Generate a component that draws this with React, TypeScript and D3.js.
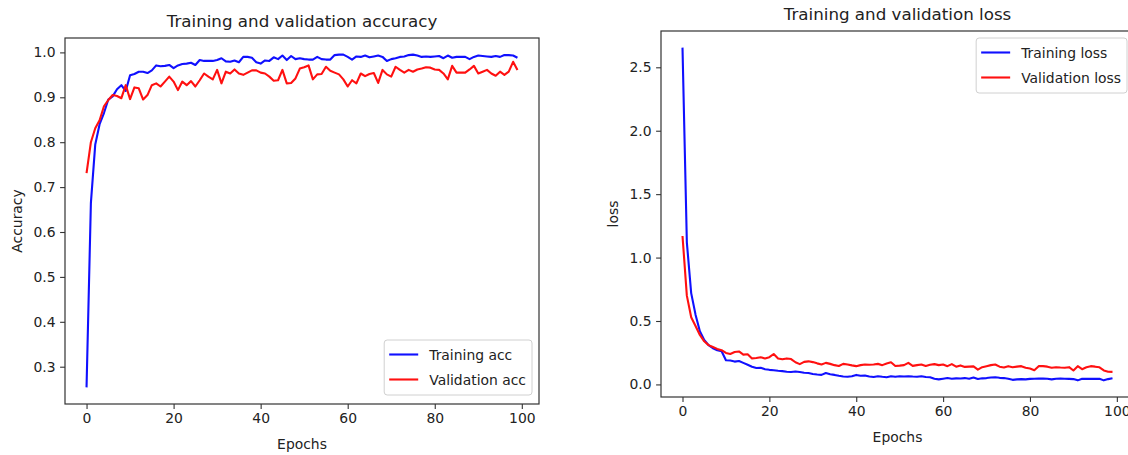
import React, { useEffect, useRef } from "react";
import * as d3 from "d3";

// values (epochs 0..99)
const trainAcc = [
  0.254, 0.665, 0.795, 0.84, 0.865, 0.895, 0.902, 0.918, 0.927, 0.914,
  0.949, 0.952, 0.957, 0.957, 0.954, 0.96, 0.971, 0.969, 0.97, 0.972,
  0.965, 0.971, 0.974, 0.975, 0.977, 0.972, 0.983, 0.981, 0.981, 0.981,
  0.983, 0.987, 0.98, 0.979, 0.982, 0.978, 0.99, 0.99, 0.988, 0.978,
  0.975, 0.982, 0.981, 0.989, 0.985, 0.993, 0.983, 0.992, 0.985, 0.987,
  0.985, 0.984, 0.984, 0.99, 0.985, 0.984, 0.984, 0.994, 0.995, 0.995,
  0.99, 0.984, 0.991, 0.99, 0.993, 0.989, 0.991, 0.993, 0.99, 0.981,
  0.985, 0.987, 0.99, 0.991, 0.994, 0.995, 0.993, 0.99, 0.991, 0.99,
  0.991, 0.992, 0.987, 0.993, 0.988, 0.99, 0.99, 0.99, 0.985, 0.99,
  0.993, 0.992, 0.991, 0.99, 0.992, 0.99, 0.994, 0.994, 0.993, 0.988,
];
const valAcc = [
  0.731, 0.8, 0.831, 0.849, 0.88, 0.894, 0.905, 0.903, 0.898, 0.927,
  0.896, 0.922, 0.92, 0.895, 0.905, 0.927, 0.931, 0.924, 0.935, 0.946,
  0.935, 0.916, 0.935, 0.927, 0.936, 0.924, 0.938, 0.953, 0.946, 0.94,
  0.961, 0.931, 0.957, 0.953, 0.962, 0.953, 0.95, 0.955, 0.96, 0.96,
  0.955, 0.953, 0.946, 0.937, 0.938, 0.961, 0.931, 0.932, 0.942, 0.964,
  0.967, 0.971, 0.94, 0.951, 0.952, 0.968, 0.959, 0.955, 0.951, 0.94,
  0.924, 0.938, 0.931, 0.953, 0.947, 0.952, 0.954, 0.932, 0.961, 0.951,
  0.946, 0.968, 0.961, 0.955, 0.961, 0.957, 0.962, 0.964, 0.967, 0.966,
  0.962, 0.961, 0.953, 0.94, 0.97, 0.955, 0.955, 0.955, 0.962, 0.97,
  0.953, 0.957, 0.961, 0.953, 0.948, 0.957, 0.95, 0.957, 0.979, 0.961,
];
const trainLoss = [
  2.655, 1.12, 0.72, 0.55, 0.42, 0.35, 0.31, 0.285, 0.27, 0.262,
  0.19, 0.188, 0.18, 0.185, 0.17, 0.155, 0.14, 0.13, 0.132, 0.12,
  0.115, 0.112, 0.108, 0.105, 0.1, 0.098, 0.102, 0.098, 0.092, 0.09,
  0.082, 0.078, 0.075, 0.09, 0.08, 0.075, 0.068, 0.062, 0.06, 0.065,
  0.075, 0.068, 0.07, 0.062, 0.058, 0.065, 0.06, 0.057, 0.065, 0.06,
  0.065, 0.063, 0.065, 0.062, 0.06, 0.065, 0.058, 0.057, 0.045, 0.04,
  0.045, 0.05, 0.045, 0.048, 0.047, 0.05, 0.045, 0.055, 0.043, 0.048,
  0.05, 0.055, 0.057, 0.052, 0.05, 0.045, 0.036, 0.04, 0.042, 0.04,
  0.044, 0.045, 0.047, 0.046, 0.045, 0.04, 0.045, 0.047, 0.045, 0.044,
  0.042, 0.032, 0.045, 0.044, 0.045, 0.044, 0.045, 0.032, 0.042, 0.048,
];
const valLoss = [
  1.17, 0.7, 0.53, 0.46, 0.39, 0.34, 0.31, 0.295, 0.28, 0.27,
  0.248, 0.24, 0.255, 0.26, 0.235, 0.238, 0.205, 0.208, 0.214, 0.205,
  0.215, 0.24, 0.205, 0.198, 0.205, 0.2, 0.175, 0.16, 0.178, 0.182,
  0.176, 0.166, 0.157, 0.17, 0.162, 0.152, 0.145, 0.162, 0.157, 0.15,
  0.144, 0.152, 0.157, 0.155, 0.157, 0.162, 0.152, 0.165, 0.175, 0.145,
  0.148, 0.152, 0.17, 0.146, 0.152, 0.157, 0.145, 0.155, 0.16, 0.152,
  0.157, 0.144, 0.16, 0.14, 0.15, 0.138, 0.14, 0.142, 0.117, 0.136,
  0.144, 0.152, 0.157, 0.14, 0.133, 0.144, 0.136, 0.14, 0.144, 0.131,
  0.125, 0.112, 0.144, 0.144, 0.14, 0.131, 0.136, 0.133, 0.131, 0.136,
  0.11, 0.144, 0.12, 0.135, 0.144, 0.14, 0.135, 0.11, 0.1, 0.099,
];

const epochTicks = [0, 20, 40, 60, 80, 100];
const accTicks = [0.3, 0.4, 0.5, 0.6, 0.7, 0.8, 0.9, 1.0];
const lossTicks = [0.0, 0.5, 1.0, 1.5, 2.0, 2.5];

const FONT = "DejaVu Sans";
const BLUE = "#1010ff";
const RED = "#ff1010";

type Panel = {
  box: { x0: number; x1: number; y0: number; y1: number };
  train: number[];
  val: number[];
  yTicks: number[];
  yFmt: (v: number) => string;
  title: string;
  ylabel: string;
  labels: [string, string];
  legendPos: "lower right" | "upper right";
};

function drawPanel(svg: d3.Selection<SVGSVGElement, unknown, null, undefined>, p: Panel) {
  const { x0, x1, y0, y1 } = p.box;
  const g = svg.append("g");

  // matplotlib style 5% margins
  const n = p.train.length;
  const xPad = (n - 1) * 0.05;
  const x = d3.scaleLinear().domain([-xPad, n - 1 + xPad]).range([x0, x1]);
  const all = p.train.concat(p.val);
  const lo = d3.min(all) as number;
  const hi = d3.max(all) as number;
  const yPad = (hi - lo) * 0.05;
  const y = d3.scaleLinear().domain([lo - yPad, hi + yPad]).range([y1, y0]);

  const line = d3
    .line<number>()
    .x((d, i) => x(i))
    .y((d) => y(d));

  g.append("path")
    .datum(p.train)
    .attr("fill", "none")
    .attr("stroke", BLUE)
    .attr("stroke-width", 2.1)
    .attr("stroke-linejoin", "round")
    .attr("d", line);
  g.append("path")
    .datum(p.val)
    .attr("fill", "none")
    .attr("stroke", RED)
    .attr("stroke-width", 2.1)
    .attr("stroke-linejoin", "round")
    .attr("d", line);

  // frame
  g.append("rect")
    .attr("x", x0)
    .attr("y", y0)
    .attr("width", x1 - x0)
    .attr("height", y1 - y0)
    .attr("fill", "none")
    .attr("stroke", "#333")
    .attr("stroke-width", 1.2);

  // x axis
  const xAxis = d3
    .axisBottom(x)
    .tickValues(epochTicks)
    .tickSize(4.9)
    .tickPadding(4.5)
    .tickFormat((d) => String(d));
  const xg = g.append("g").attr("transform", `translate(0,${y1})`).call(xAxis);
  xg.select(".domain").remove();
  xg.selectAll(".tick line").attr("stroke", "#333").attr("stroke-width", 1.1);
  xg.selectAll(".tick text")
    .attr("fill", "#222")
    .attr("font-family", FONT)
    .attr("font-size", 13.9);

  // y axis
  const yAxis = d3
    .axisLeft(y)
    .tickValues(p.yTicks)
    .tickSize(4.9)
    .tickPadding(4.5)
    .tickFormat((d) => p.yFmt(d as number));
  const yg = g.append("g").attr("transform", `translate(${x0},0)`).call(yAxis);
  yg.select(".domain").remove();
  yg.selectAll(".tick line").attr("stroke", "#333").attr("stroke-width", 1.1);
  yg.selectAll(".tick text")
    .attr("fill", "#222")
    .attr("font-family", FONT)
    .attr("font-size", 13.9);

  // titles and labels
  g.append("text")
    .attr("x", (x0 + x1) / 2)
    .attr("y", y0 - 11)
    .attr("text-anchor", "middle")
    .attr("font-family", FONT)
    .attr("font-size", 16.7)
    .attr("fill", "#222")
    .text(p.title);
  g.append("text")
    .attr("x", (x0 + x1) / 2)
    .attr("y", y1 + 44.5)
    .attr("text-anchor", "middle")
    .attr("font-family", FONT)
    .attr("font-size", 13.9)
    .attr("fill", "#222")
    .text("Epochs");
  g.append("text")
    .attr("transform", `translate(${x0 - 43},${(y0 + y1) / 2}) rotate(-90)`)
    .attr("text-anchor", "middle")
    .attr("font-family", FONT)
    .attr("font-size", 13.9)
    .attr("fill", "#222")
    .text(p.ylabel);

  // legend
  const lg = g.append("g");
  const items = [
    { label: p.labels[0], color: BLUE },
    { label: p.labels[1], color: RED },
  ];
  const texts = lg
    .selectAll("text")
    .data(items)
    .enter()
    .append("text")
    .attr("font-family", FONT)
    .attr("font-size", 13.9)
    .attr("fill", "#222")
    .text((d) => d.label);
  let tw = 0;
  texts.each(function () {
    tw = Math.max(tw, (this as SVGTextElement).getComputedTextLength());
  });
  const bw = 45 + tw + 6;
  const bh = 55;
  const bx = x1 - 7 - bw;
  const by = p.legendPos === "lower right" ? y1 - 9 - bh : y0 + 7;
  lg.insert("rect", "text")
    .attr("x", bx)
    .attr("y", by)
    .attr("width", bw)
    .attr("height", bh)
    .attr("rx", 3)
    .attr("fill", "white")
    .attr("fill-opacity", 0.8)
    .attr("stroke", "#d0d0d0")
    .attr("stroke-width", 1);
  lg.selectAll("line")
    .data(items)
    .enter()
    .append("line")
    .attr("x1", bx + 5)
    .attr("x2", bx + 34)
    .attr("y1", (d, i) => by + 14.5 + i * 25)
    .attr("y2", (d, i) => by + 14.5 + i * 25)
    .attr("stroke", (d) => d.color)
    .attr("stroke-width", 2.1);
  texts.attr("x", bx + 45).attr("y", (d, i) => by + 14.5 + i * 25 + 5);
}

export default function App() {
  const ref = useRef<SVGSVGElement>(null);

  useEffect(() => {
    const svg = d3.select(ref.current as SVGSVGElement);
    svg.selectAll("*").remove();

    drawPanel(svg, {
      box: { x0: 65, x1: 539, y0: 38, y1: 404 },
      train: trainAcc,
      val: valAcc,
      yTicks: accTicks,
      yFmt: d3.format(".1f"),
      title: "Training and validation accuracy",
      ylabel: "Accuracy",
      labels: ["Training acc", "Validation acc"],
      legendPos: "lower right",
    });
    drawPanel(svg, {
      box: { x0: 661, x1: 1134, y0: 31, y1: 397 },
      train: trainLoss,
      val: valLoss,
      yTicks: lossTicks,
      yFmt: d3.format(".1f"),
      title: "Training and validation loss",
      ylabel: "loss",
      labels: ["Training loss", "Validation loss"],
      legendPos: "upper right",
    });
  }, []);

  return (
    <svg
      ref={ref}
      width={1128}
      height={455}
      style={{ position: "absolute", left: 0, top: 0, background: "white" }}
    />
  );
}
